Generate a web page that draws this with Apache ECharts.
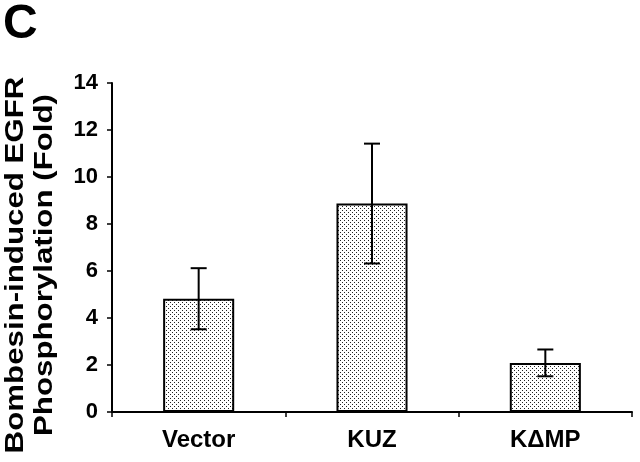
<!DOCTYPE html>
<html><head><meta charset="utf-8">
<script src="https://cdn.jsdelivr.net/npm/echarts@6/dist/echarts.min.js"></script>
<style>html,body{margin:0;padding:0;background:#fff}#c{width:640px;height:462px}</style>
</head><body><div id="c"></div>
<script>
const categories = ['Vector', 'KUZ', 'K\u0394MP'];
const values = [4.82, 8.87, 2.09];
const errors = [1.3, 2.55, 0.57];
const yTicks = [0, 2, 4, 6, 8, 10, 12, 14];
const yTitle = ['Bombesin-induced EGFR', 'Phosphorylation (Fold)'];
const panelLabel = 'C';

const pc = document.createElement('canvas');
pc.width = 4; pc.height = 4;
const g = pc.getContext('2d');
g.fillStyle = '#fff'; g.fillRect(0, 0, 4, 4);
g.fillStyle = '#222';
g.fillRect(0, 0, 1, 1);
g.fillRect(2, 2, 1, 1);

const font = '"Liberation Sans", Arial, sans-serif';
const chart = echarts.init(document.getElementById('c'));
chart.setOption({
  animation: false,
  backgroundColor: '#fff',
  grid: { left: 112, right: 8, top: 83, bottom: 50, containLabel: false, outerBoundsMode: 'none' },
  graphic: [
    { type: 'text', left: 3, top: 1, style: { text: panelLabel, font: 'bold 48px ' + font, fill: '#000' } },
    { type: 'text', x: 31, y: 265, rotation: Math.PI / 2, scaleX: 1.25, scaleY: 1,
      style: { text: yTitle.join('\n'), font: 'bold 25px ' + font, lineHeight: 29, fill: '#000',
        textAlign: 'center', textVerticalAlign: 'middle', align: 'center', verticalAlign: 'middle' } }
  ],
  xAxis: {
    type: 'category', data: categories,
    axisLine: { lineStyle: { color: '#000', width: 2 } },
    axisTick: { show: true, length: 5, lineStyle: { color: '#000', width: 1.5 }, inside: false },
    axisLabel: { color: '#000', fontFamily: font, fontWeight: 'bold', fontSize: 24, margin: 16 }
  },
  yAxis: {
    type: 'value', min: 0, max: 14, interval: 2,
    splitLine: { show: false },
    axisLine: { show: true, lineStyle: { color: '#000', width: 2 } },
    axisTick: { show: true, length: 5, lineStyle: { color: '#000', width: 1.5 } },
    axisLabel: { color: '#000', fontFamily: font, fontWeight: 'bold', fontSize: 22, margin: 14,
      formatter: v => yTicks.includes(v) ? String(v) : '' }
  },
  series: [{
    type: 'bar', data: values, barWidth: '41%',
    itemStyle: { color: { image: pc, repeat: 'repeat' }, borderColor: '#000', borderWidth: 2 }
  }, {
    type: 'custom',
    data: values.map((v, i) => [i, v - errors[i], v + errors[i]]),
    renderItem: (params, api) => {
      const lo = api.coord([api.value(0), api.value(1)]);
      const hi = api.coord([api.value(0), api.value(2)]);
      const w = 8;
      const st = { stroke: '#000', lineWidth: 2 };
      return { type: 'group', children: [
        { type: 'line', shape: { x1: lo[0], y1: lo[1], x2: hi[0], y2: hi[1] }, style: st },
        { type: 'line', shape: { x1: lo[0] - w, y1: lo[1], x2: lo[0] + w, y2: lo[1] }, style: st },
        { type: 'line', shape: { x1: hi[0] - w, y1: hi[1], x2: hi[0] + w, y2: hi[1] }, style: st }
      ]};
    },
    z: 10
  }]
});
</script></body></html>
